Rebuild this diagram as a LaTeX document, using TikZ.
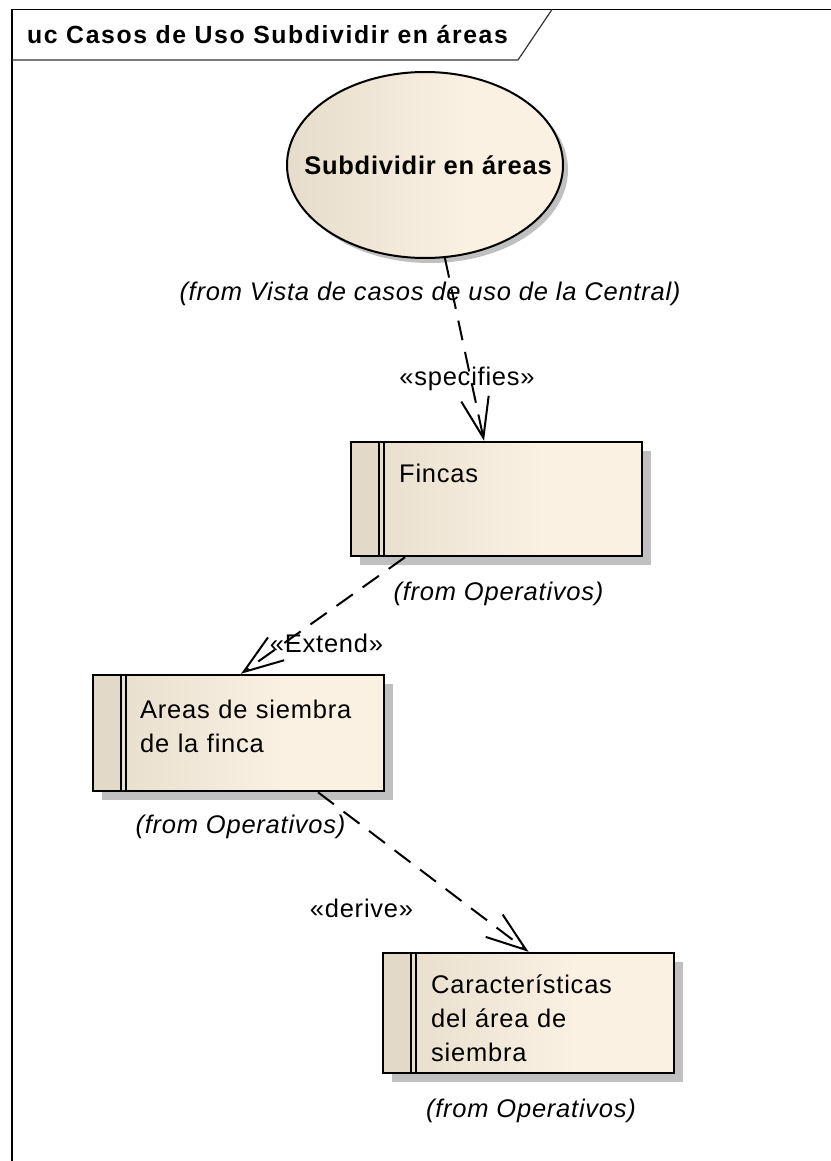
\documentclass[tikz,border=0pt]{standalone}
\usepackage{fontspec}
\setmainfont{Liberation Sans}[LetterSpace=3]
\usetikzlibrary{arrows.meta,shapes.geometric,shadows,positioning}
\definecolor{ucdark}{HTML}{E6DCCB}
\definecolor{uclight}{HTML}{FBF1E3}
\definecolor{ucband}{HTML}{E3D9C8}
\definecolor{ucshadow}{HTML}{C0C0C0}
\pgfdeclarehorizontalshading{ucshade}{100bp}{color(0bp)=(ucdark); color(25bp)=(ucdark); color(58bp)=(uclight); color(100bp)=(uclight)}
\newcommand{\boxfont}{\fontsize{25.5}{34}\selectfont}

\begin{document}
\begin{tikzpicture}[x=1pt,y=-1pt,every node/.style={inner sep=0pt},
    ucbox/.style={draw,line width=2.5pt,shading=ucshade,minimum width=291pt,
      drop shadow={shadow xshift=9pt,shadow yshift=-9pt,fill=ucshadow,opacity=1},
      path picture={
        \fill[ucband](path picture bounding box.south west)rectangle
          ([xshift=27.5pt]path picture bounding box.north west);
        \draw[line width=2pt]([xshift=27.5pt]path picture bounding box.south west)--
          ([xshift=27.5pt]path picture bounding box.north west);
        \draw[line width=2pt]([xshift=33pt]path picture bounding box.south west)--
          ([xshift=33pt]path picture bounding box.north west);}},
    boxtext/.style={anchor=north west,text width=235pt,align=left,font=\boxfont},
    fromtext/.style={anchor=base,font=\boxfont\itshape},
    stereo/.style={anchor=base,font=\boxfont},
    dep/.style={line width=2pt,dash pattern=on 20pt off 12pt,
      -{Straight Barb[length=40pt,width=28pt,line width=2pt]}}]
  \useasboundingbox[fill=white](0,0)rectangle(830,1161);
  % frame and title tab
  \draw[line width=1.5pt](12,1170)--(12,9.5)--(840,9.5);
  \draw[line width=1.2pt,black!80](12,60)--(518,60)--(552,9.5);
  \node[anchor=base west,font=\fontsize{24.8}{28}\selectfont\bfseries\addfontfeatures{LetterSpace=6.5}]
    (title) at (27,44) {uc Casos de Uso Subdividir en áreas};
  % use case
  \node[ellipse,draw,line width=2pt,shading=ucshade,minimum width=276pt,minimum height=186pt,
    drop shadow={shadow xshift=5pt,shadow yshift=-5pt,fill=ucshadow,opacity=1},
    font=\fontsize{25.5}{30}\selectfont\bfseries] (subdiv) at (425,165)
    {\makebox[0pt]{\hspace*{6pt}Subdividir en áreas}};
  \node[fromtext] (subdiv-from) at (430,300) {(from Vista de casos de uso de la Central)};
  % boxes
  \node[ucbox,minimum height=114pt] (fincas) at (496.5,499) {};
  \node[boxtext] (fincas-txt) at (399,458.2) {\strut Fincas};
  \node[fromtext] (fincas-from) at (498.5,600) {(from Operativos)};
  \node[ucbox,minimum height=116pt] (areas) at (238.5,733) {};
  \node[boxtext] (areas-txt) at (140,694.2) {\strut Areas de siembra\\de la finca};
  \node[fromtext] (areas-from) at (240.5,833) {(from Operativos)};
  \node[ucbox,minimum height=120pt] (caract) at (528.5,1013) {};
  \node[boxtext] (caract-txt) at (431,969.2) {\strut Características\\del área de\\siembra};
  \node[fromtext] (caract-from) at (531,1117) {(from Operativos)};
  % dependencies
  \draw[dep](subdiv)--([xshift=-12.5pt]fincas.north);
  \node[stereo] (specifies) at (467,385) {«specifies»};
  \draw[dep]([xshift=-91.5pt]fincas.south)--([xshift=2.5pt]areas.north);
  \node[stereo] (extend) at (326.5,652) {«Extend»};
  \draw[dep]([xshift=79.5pt]areas.south)--(caract.north);
  \node[stereo] (derive) at (361.5,917) {«derive»};
\end{tikzpicture}
\end{document}
